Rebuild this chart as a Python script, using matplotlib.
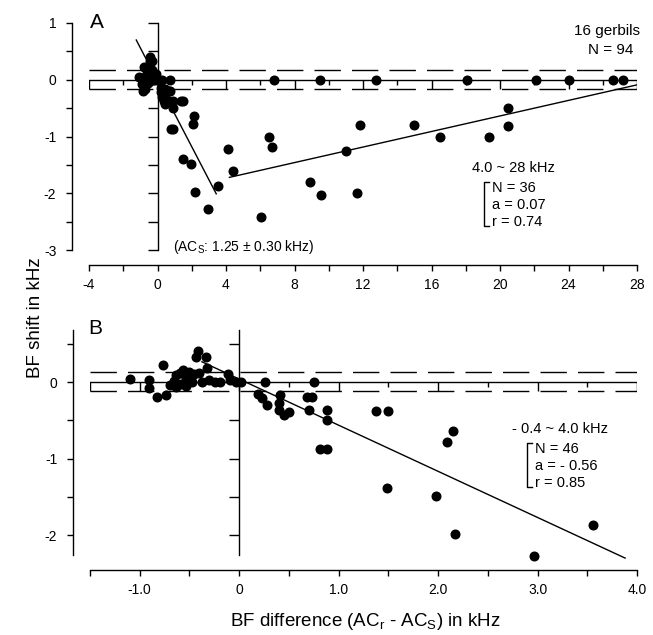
import matplotlib.pyplot as plt
from matplotlib.ticker import MultipleLocator
from matplotlib.lines import Line2D

plt.rcParams['font.family'] = ['Liberation Sans', 'DejaVu Sans']
plt.rcParams['axes.unicode_minus'] = False
plt.rcParams['mathtext.default'] = 'regular'

# BF difference (ACr - ACs, kHz) and BF shift (kHz) of every neuron
bf_diff = [-1.10, -0.91, -0.91, -0.83, -0.74, -0.77, -0.70, -0.66, -0.64, -0.64,
           -0.60, -0.58, -0.56, -0.53, -0.53, -0.50, -0.47, -0.45, -0.43, -0.41,
           -0.40, -0.37, -0.33, -0.32, -0.30, -0.24, -0.19, -0.11, -0.09, -0.03,
           0.02, 0.26, 0.75, 0.19, 0.23, 0.28, 0.41, 0.40, 0.40, 0.45,
           0.50, 0.68, 0.73, 0.70, 0.88, 0.88, 0.81, 0.88, 1.38, 1.50,
           2.09, 2.15, 1.49, 1.98, 2.17, 2.96, 3.56,
           4.11, 4.40, 6.50, 6.68, 6.02, 6.83, 9.46, 12.77, 8.92, 9.56,
           11.64, 11.02, 11.80, 15.00, 16.47, 18.10, 22.10, 24.00, 26.60, 27.20,
           19.35, 20.46, 20.46]
bf_shift = [0.04, 0.03, -0.08, -0.19, -0.17, 0.22, -0.04, 0.02, 0.09, -0.06,
            0.12, -0.02, 0.16, 0.05, -0.05, 0.13, 0.00, 0.10, 0.33, 0.40,
            0.12, 0.00, 0.33, 0.18, 0.03, 0.00, 0.00, 0.11, 0.03, 0.00,
            0.00, 0.00, 0.00, -0.15, -0.21, -0.30, -0.17, -0.28, -0.37, -0.43,
            -0.39, -0.19, -0.19, -0.37, -0.37, -0.50, -0.87, -0.87, -0.38, -0.38,
            -0.78, -0.64, -1.39, -1.49, -1.98, -2.27, -1.87,
            -1.22, -1.60, -1.01, -1.19, -2.42, 0.00, 0.00, 0.00, -1.80, -2.03,
            -2.00, -1.25, -0.79, -0.79, -1.00, 0.00, 0.00, 0.00, 0.00, 0.00,
            -1.00, -0.81, -0.50]

# regression line end points
fit_a1_x, fit_a1_y = [-1.24, 3.43], [0.70, -2.01]
fit_a2_x, fit_a2_y = [4.2, 28.0], [-1.72, -0.09]
fit_b_x, fit_b_y = [-0.375, 3.88], [0.265, -2.30]

a_xticks = [-4, 0, 4, 8, 12, 16, 20, 24, 28]
a_yticks = [1, 0, -1, -2, -3]
b_xticks = [-1, 0, 1, 2, 3, 4]
b_xticklabels = ['-1.0', '0', '1.0', '2.0', '3.0', '4.0']
b_yticks = [0, -1, -2]

W, H = 653, 635
fig = plt.figure(figsize=(W / 100, H / 100), dpi=100)


def fx(px):
    return px / W


def fy(py):
    return 1 - py / H


axA = fig.add_axes([fx(89), fy(250), 548 / W, 227 / H])
axB = fig.add_axes([fx(90), fy(555), 547 / W, 225 / H])


def style(ax, xlim, ylim, xmin, band_hi, band_lo, tick_lo_step):
    ax.set_xlim(*xlim)
    ax.set_ylim(*ylim)
    for s in ['top', 'right']:
        ax.spines[s].set_visible(False)
    ax.spines['left'].set_position(('outward', 12))
    ax.spines['bottom'].set_position(('outward', 11))
    for s in ['left', 'bottom']:
        ax.spines[s].set_linewidth(1.0)
    ax.xaxis.set_minor_locator(MultipleLocator(xmin))
    ax.yaxis.set_minor_locator(MultipleLocator(0.5))
    ax.tick_params(which='both', direction='out', length=4.5, width=1.0,
                   labelsize=10)
    ax.tick_params(axis='x', pad=4.5)
    ax.tick_params(axis='y', pad=7)
    # zero line with SD band
    x0, x1 = xlim
    ax.plot([x0, x1], [0, 0], color='black', lw=1.0)
    for yb in (band_hi, band_lo):
        ax.plot([x0, x1], [yb, yb], color='black', lw=1.0, dashes=(19, 8))
    ax.vlines([x0, x1], band_lo, 0, color='black', lw=1.0)
    v = x0 + tick_lo_step
    while v < x1 - 1e-9:
        long = (round(v / tick_lo_step) % 2 == 0)
        ax.vlines(v, band_lo if long else band_lo / 2, 0, color='black', lw=1.0)
        v += tick_lo_step
    # vertical line at x = 0 with ticks
    y0, y1 = ylim
    ax.plot([0, 0], [y0, y1], color='black', lw=1.0, clip_on=False)
    yt = [t * 0.5 for t in range(int(y0 / 0.5) - 1, int(y1 / 0.5) + 2)
          if y0 - 1e-9 <= t * 0.5 <= y1 + 1e-9]
    ax.plot([0] * len(yt), yt, linestyle='none', marker=0, markersize=7,
            markeredgewidth=1.0, color='black', clip_on=False)


style(axA, (-4, 28), (-3, 1), 2, 0.17, -0.17, 2)
axA.set_xticks(a_xticks)
axA.set_yticks(a_yticks)
axA.plot(bf_diff, bf_shift, 'o', color='black', markersize=6.2, clip_on=False)
axA.plot(fit_a1_x, fit_a1_y, color='black', lw=1.0)
axA.plot(fit_a2_x, fit_a2_y, color='black', lw=1.0)

style(axB, (-1.5, 4.0), (-2.26, 0.68), 0.5, 0.135, -0.12, 0.5)
axB.set_xticks(b_xticks, b_xticklabels)
axB.set_yticks(b_yticks)
bx = [x for x in bf_diff if x <= 4.0]
by = [y for x, y in zip(bf_diff, bf_shift) if x <= 4.0]
axB.plot(bx, by, 'o', color='black', markersize=6.2, clip_on=False)
axB.plot(fit_b_x, fit_b_y, color='black', lw=1.0, clip_on=False)

# labels
fig.text(fx(90), fy(22), 'A', fontsize=15, ha='left', va='center')
fig.text(fx(88), fy(328), 'B', fontsize=15, ha='left', va='center')
fig.text(fx(36), 0.5, 'BF shift in kHz', fontsize=13.5, rotation=90,
         ha='center', va='center')
fig.text(fx(365), fy(622), 'BF difference (AC$_r$ - AC$_S$) in kHz',
         fontsize=13.5, ha='center', va='center')

fig.text(fx(640), fy(31), '16 gerbils', fontsize=11, ha='right', va='center')
fig.text(fx(633), fy(50), 'N = 94', fontsize=11, ha='right', va='center')
fig.text(fx(173), fy(247), '(AC$_S$: 1.25 ± 0.30 kHz)', fontsize=10,
         ha='left', va='center')


def stats_block(xl, yl, head, lines, xb):
    fig.text(fx(xl), fy(yl), head, fontsize=10.5, ha='left', va='center')
    for i, s in enumerate(lines):
        fig.text(fx(xb + 8), fy(yl + 20 + 17 * i), s, fontsize=10.5,
                 ha='left', va='center')
    top, bot = yl + 14, yl + 58
    fig.add_artist(Line2D([fx(xb + 5), fx(xb), fx(xb), fx(xb + 5)],
                          [fy(top), fy(top), fy(bot), fy(bot)],
                          color='black', lw=1.0))


stats_block(472, 168, '4.0 ~ 28 kHz', ['N = 36', 'a = 0.07', 'r = 0.74'], 484)
stats_block(512, 429, '- 0.4 ~ 4.0 kHz', ['N = 46', 'a = - 0.56', 'r = 0.85'], 527)

fig.savefig('out.png', dpi=100)
